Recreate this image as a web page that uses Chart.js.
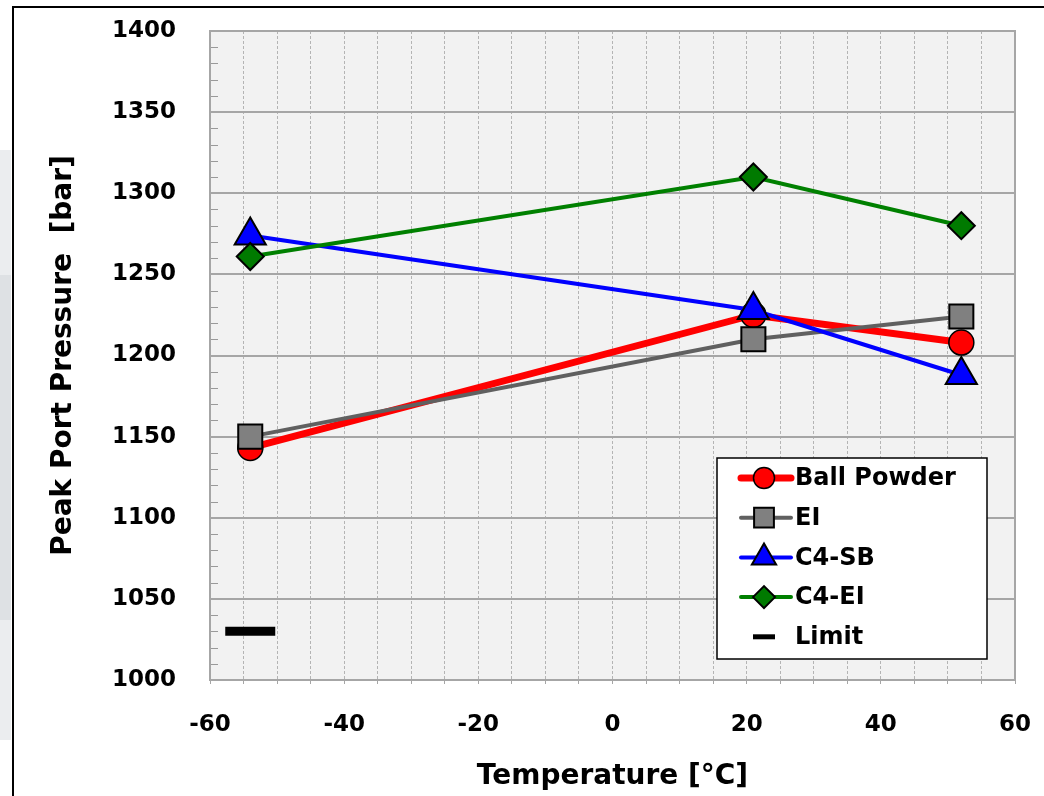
<!DOCTYPE html>
<html>
<head>
<meta charset="utf-8">
<script src="https://cdn.jsdelivr.net/npm/chart.js@4"></script>
<style>
	body { margin: 0; background: #fff; overflow: hidden; }
	#wrap { position: absolute; left: 0; top: 0; width: 1044px; height: 796px; }
	.strip { position: absolute; left: 0; width: 11px; }
	#frame {
		position: absolute; left: 12px; top: 6px; width: 1100px; height: 900px;
		border-left: 2px solid #000; border-top: 2px solid #000; pointer-events: none;
	}
</style>
</head>
<body>
<div class="strip" style="top:150px;height:125px;background:#ebedef"></div>
<div class="strip" style="top:275px;height:345px;background:#dee1e4"></div>
<div class="strip" style="top:620px;height:120px;background:#ebedef"></div>
<div id="wrap"><canvas id="chart"></canvas></div>
<div id="frame"></div>
<script>
// Values
const temps = [-54, 21, 52];
const ballPowder = [1143, 1225, 1208];
const ei = [1150, 1210, 1224];
const c4sb = [1274, 1228, 1188];
const c4ei = [1261, 1310, 1280];
const limitTemps = [-54];
const limitValues = [1030];

const seriesLabels = ['Ball Powder', 'EI', 'C4-SB', 'C4-EI', 'Limit'];

const FONT = 'DejaVu Sans';

function toPoints(xs, ys) {
	return xs.map((x, i) => ({ x: x, y: ys[i] }));
}

// no extra room for the end labels, the plot box is fixed
function noScalePadding(scale) {
	scale.paddingTop = 0;
	scale.paddingBottom = 0;
	scale.paddingLeft = 0;
	scale.paddingRight = 0;
}

// grey plot background + outline
const plotBackground = {
	id: 'plotBackground',
	beforeDraw(chart) {
		const { ctx, chartArea: a } = chart;
		ctx.save();
		ctx.fillStyle = '#f2f2f2';
		ctx.fillRect(a.left, a.top, a.right - a.left, a.bottom - a.top);
		ctx.restore();
	},
	beforeDatasetsDraw(chart) {
		const { ctx, chartArea: a } = chart;
		const y = chart.scales.y;
		ctx.save();
		// short minor ticks inside the left edge
		ctx.strokeStyle = '#9a9a9a';
		ctx.lineWidth = 1;
		y.ticks.forEach((t) => {
			if (t.value % 50 === 0) return;
			const py = Math.round(y.getPixelForValue(t.value)) + 0.5;
			ctx.beginPath();
			ctx.moveTo(a.left, py);
			ctx.lineTo(a.left + 8, py);
			ctx.stroke();
		});
		ctx.strokeStyle = '#a6a6a6';
		ctx.lineWidth = 2;
		ctx.strokeRect(a.left, a.top, a.right - a.left, a.bottom - a.top);
		ctx.restore();
	},
};

// Excel style legend: line + marker per row
const boxLegend = {
	id: 'boxLegend',
	afterDatasetsDraw(chart) {
		const ctx = chart.ctx;
		const box = { x: 717, y: 458, w: 270, h: 201 };
		ctx.save();
		ctx.fillStyle = '#ffffff';
		ctx.fillRect(box.x, box.y, box.w, box.h);
		ctx.strokeStyle = '#000';
		ctx.lineWidth = 1.5;
		ctx.strokeRect(box.x, box.y, box.w, box.h);

		const legendRadius = [10.5, 14, 14, 11, 11];
		chart.data.datasets.forEach((ds, i) => {
			const cy = box.y + 20 + i * 39.7;
			const isLimit = ds.showLine === false;
			if (!isLimit) {
				ctx.strokeStyle = ds.borderColor;
				ctx.lineWidth = ds.borderWidth;
				ctx.lineCap = 'round';
				ctx.beginPath();
				ctx.moveTo(box.x + 24, cy);
				ctx.lineTo(box.x + 74, cy);
				ctx.stroke();
			}
			ctx.fillStyle = ds.pointBackgroundColor;
			ctx.strokeStyle = ds.pointBorderColor;
			ctx.lineWidth = isLimit ? 5 : ds.pointBorderWidth;
			ctx.lineCap = 'butt';
			Chart.helpers.drawPoint(ctx, {
				pointStyle: ds.pointStyle,
				radius: legendRadius[i],
				borderWidth: ctx.lineWidth,
				rotation: 0,
			}, box.x + 47, cy);

			ctx.fillStyle = '#000';
			ctx.font = 'bold 24px "' + FONT + '"';
			ctx.textAlign = 'left';
			ctx.textBaseline = 'middle';
			ctx.fillText(ds.label, box.x + 78, cy + 1);
		});
		ctx.restore();
	},
};

const ctx = document.getElementById('chart').getContext('2d');

new Chart(ctx, {
	type: 'line',
	data: {
		datasets: [
			{
				label: seriesLabels[0],
				data: toPoints(temps, ballPowder),
				borderColor: '#ff0000',
				borderWidth: 7,
				pointStyle: 'circle',
				pointRadius: 12.5,
				pointBackgroundColor: '#ff0000',
				pointBorderColor: '#000',
				pointBorderWidth: 1.5,
				order: 4,
			},
			{
				label: seriesLabels[1],
				data: toPoints(temps, ei),
				borderColor: '#606060',
				borderWidth: 4,
				pointStyle: 'rect',
				pointRadius: 17,
				pointBackgroundColor: '#808080',
				pointBorderColor: '#000',
				pointBorderWidth: 2,
				order: 3,
			},
			{
				label: seriesLabels[2],
				data: toPoints(temps, c4sb),
				borderColor: '#0000ff',
				borderWidth: 4,
				pointStyle: 'triangle',
				pointRadius: 18,
				pointBackgroundColor: '#0000ff',
				pointBorderColor: '#000',
				pointBorderWidth: 2,
				order: 2,
			},
			{
				label: seriesLabels[3],
				data: toPoints(temps, c4ei),
				borderColor: '#008000',
				borderWidth: 4,
				pointStyle: 'rectRot',
				pointRadius: 13.5,
				pointBackgroundColor: '#007a00',
				pointBorderColor: '#000',
				pointBorderWidth: 2,
				order: 1,
			},
			{
				label: seriesLabels[4],
				data: toPoints(limitTemps, limitValues),
				showLine: false,
				pointStyle: 'line',
				pointRadius: 25,
				pointBackgroundColor: '#000',
				pointBorderColor: '#000',
				pointBorderWidth: 9,
				order: 0,
			},
		],
	},
	options: {
		responsive: true,
		maintainAspectRatio: false,
		animation: false,
		events: [],
		layout: { autoPadding: false, padding: { top: 31, right: 29, left: 0, bottom: 0 } },
		plugins: {
			legend: { display: false },
			tooltip: { enabled: false },
		},
		scales: {
			x: {
				type: 'linear',
				min: -60,
				max: 60,
				afterFit: (scale) => { scale.height = 116; noScalePadding(scale); },
				ticks: {
					stepSize: 5,
					autoSkip: false,
					maxRotation: 0,
					padding: 27,
					color: '#000',
					font: { family: FONT, size: 23, weight: 'bold' },
					callback: (v) => (v % 20 === 0 ? String(v) : ''),
				},
				grid: {
					color: '#b4b4b4',
					lineWidth: 1,
					drawTicks: true,
					tickLength: 4,
					tickColor: '#a6a6a6',
				},
				border: { display: true, color: '#a6a6a6', width: 2, dash: [3, 2] },
				title: {
					display: true,
					text: 'Temperature [°C]',
					color: '#000',
					font: { family: FONT, size: 28, weight: 'bold' },
					padding: { top: 0, bottom: 2 },
				},
			},
			y: {
				min: 1000,
				max: 1400,
				afterFit: (scale) => { scale.width = 210; noScalePadding(scale); },
				ticks: {
					stepSize: 10,
					autoSkip: false,
					padding: 34,
					color: '#000',
					font: { family: FONT, size: 23, weight: 'bold' },
					callback: (v) => (v % 50 === 0 ? String(v) : ''),
				},
				grid: {
					color: (c) => (c.tick && c.tick.value % 50 === 0 ? '#a6a6a6' : 'rgba(0,0,0,0)'),
					lineWidth: 2,
					drawTicks: false,
				},
				border: { display: true, color: '#a6a6a6', width: 2 },
				title: {
					display: true,
					text: 'Peak Port Pressure  [bar]',
					color: '#000',
					font: { family: FONT, size: 28, weight: 'bold' },
					padding: { top: 47, bottom: 0 },
				},
			},
		},
	},
	plugins: [plotBackground, boxLegend],
});
</script>
</body>
</html>
